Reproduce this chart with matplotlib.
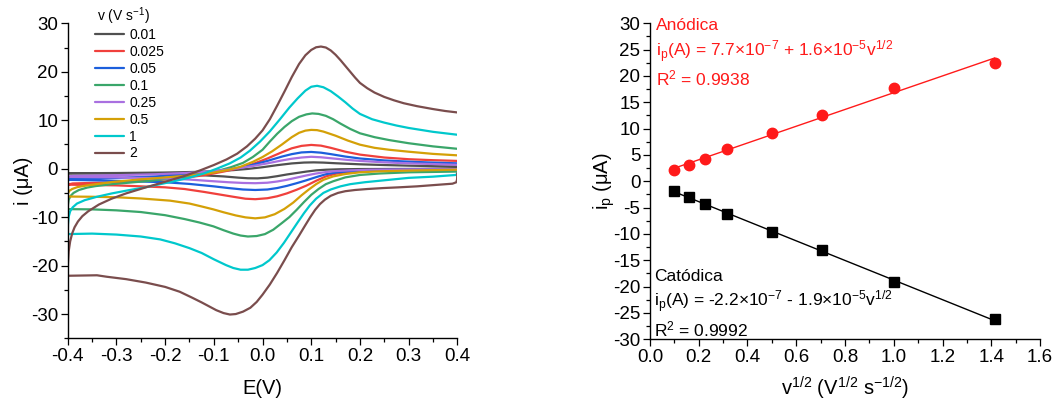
import numpy as np
import matplotlib
matplotlib.use("Agg")
import matplotlib.pyplot as plt
from matplotlib.ticker import MultipleLocator

plt.rcParams['font.family'] = ['Liberation Sans', 'DejaVu Sans']
plt.rcParams['mathtext.default'] = 'regular'
plt.rcParams['axes.unicode_minus'] = False

# ---------------- Left panel: cyclic voltammograms ----------------
scan_rates = ['0.01', '0.025', '0.05', '0.1', '0.25', '0.5', '1', '2']
colors = ['#505050', '#f0403c', '#1c5fdc', '#3aa66a', '#a970e0', '#d4a007', '#00c8cc', '#7a4d4d']

# reverse (cathodic) branch, 0.4 V -> -0.4 V ; forward (anodic) branch, -0.4 V -> 0.4 V
rev_E_001 = [0.4, 0.3, 0.2, 0.16, 0.13, 0.11, 0.09, 0.07, 0.05, 0.03, 0.01, -0.01, -0.03, -0.05, -0.08, -0.12, -0.2, -0.3, -0.4]
rev_i_001 = [0.0, -0.05, -0.08, -0.12, -0.22, -0.35, -0.6, -0.9, -1.2, -1.55, -1.85, -2.0, -1.98, -1.85, -1.6, -1.38, -1.12, -0.98, -0.95]
fwd_E_001 = [-0.4, -0.3, -0.2, -0.14, -0.1, -0.06, -0.03, 0.0, 0.03, 0.06, 0.085, 0.105, 0.125, 0.15, 0.2, 0.25, 0.3, 0.35, 0.4]
fwd_i_001 = [-0.95, -0.9, -0.8, -0.68, -0.52, -0.3, -0.05, 0.3, 0.72, 1.08, 1.26, 1.3, 1.25, 1.12, 0.9, 0.75, 0.62, 0.52, 0.45]

rev_E_0025 = [0.4, 0.3, 0.22, 0.18, 0.15, 0.13, 0.11, 0.09, 0.07, 0.05, 0.03, 0.01, -0.015, -0.035, -0.06, -0.09, -0.12, -0.16, -0.2, -0.3, -0.4]
rev_i_0025 = [-0.2, -0.3, -0.42, -0.65, -1.05, -1.6, -2.5, -3.5, -4.35, -5.1, -5.7, -6.1, -6.3, -6.2, -5.8, -5.3, -4.8, -4.2, -3.85, -3.45, -3.3]
fwd_E_0025 = [-0.4, -0.39, -0.3, -0.22, -0.16, -0.12, -0.08, -0.05, -0.02, 0.01, 0.04, 0.06, 0.08, 0.1, 0.12, 0.14, 0.17, 0.2, 0.25, 0.3, 0.35, 0.4]
fwd_i_0025 = [-3.3, -3.05, -2.8, -2.4, -1.9, -1.35, -0.6, 0.05, 0.95, 2.1, 3.4, 4.2, 4.7, 4.9, 4.75, 4.3, 3.5, 2.9, 2.3, 1.95, 1.75, 1.6]

rev_E_005 = [0.4, 0.3, 0.22, 0.18, 0.15, 0.13, 0.11, 0.09, 0.07, 0.05, 0.03, 0.01, -0.015, -0.04, -0.07, -0.1, -0.15, -0.2, -0.3, -0.4]
rev_i_005 = [-0.1, -0.2, -0.3, -0.5, -0.8, -1.15, -1.75, -2.4, -3.0, -3.55, -4.0, -4.3, -4.4, -4.3, -4.0, -3.65, -3.15, -2.8, -2.5, -2.3]
fwd_E_005 = [-0.4, -0.39, -0.3, -0.22, -0.16, -0.12, -0.08, -0.05, -0.02, 0.01, 0.04, 0.06, 0.08, 0.1, 0.12, 0.14, 0.17, 0.2, 0.25, 0.3, 0.35, 0.4]
fwd_i_005 = [-2.3, -2.1, -1.9, -1.6, -1.2, -0.85, -0.35, 0.15, 0.8, 1.6, 2.5, 3.0, 3.35, 3.45, 3.3, 3.0, 2.5, 2.1, 1.7, 1.45, 1.25, 1.1]

rev_E_01 = [0.4, 0.3, 0.24, 0.2, 0.17, 0.145, 0.13, 0.115, 0.1, 0.085, 0.07, 0.055, 0.04, 0.022, 0.005, -0.012, -0.03, -0.045, -0.06, -0.08, -0.101, -0.13, -0.16, -0.2, -0.25, -0.3, -0.35, -0.4]
rev_i_01 = [-0.6, -0.75, -1.0, -1.3, -1.8, -2.6, -3.2, -4.2, -5.4, -6.9, -8.5, -10.0, -11.2, -12.6, -13.5, -13.9, -14.0, -13.8, -13.4, -12.7, -11.9, -11.1, -10.4, -9.6, -8.95, -8.6, -8.4, -8.35]
fwd_E_01 = [-0.4, -0.3995, -0.398, -0.394, -0.388, -0.377, -0.36, -0.343, -0.31, -0.275, -0.23, -0.186, -0.15, -0.12, -0.09, -0.065, -0.04, -0.02, 0.0, 0.015, 0.03, 0.045, 0.06, 0.075, 0.09, 0.102, 0.115, 0.13, 0.145, 0.16, 0.18, 0.2, 0.23, 0.26, 0.3, 0.35, 0.4]
fwd_i_01 = [-8.35, -7.4, -6.4, -5.6, -5.0, -4.4, -3.9, -3.6, -3.2, -2.9, -2.5, -2.0, -1.5, -0.95, -0.4, 0.3, 1.2, 2.4, 3.9, 5.6, 7.2, 8.6, 9.8, 10.7, 11.2, 11.4, 11.3, 10.9, 10.2, 9.3, 8.2, 7.3, 6.5, 5.9, 5.25, 4.6, 4.1]

rev_E_025 = [0.4, 0.3, 0.22, 0.18, 0.15, 0.13, 0.11, 0.09, 0.07, 0.05, 0.03, 0.01, -0.015, -0.04, -0.07, -0.1, -0.15, -0.2, -0.3, -0.4]
rev_i_025 = [-0.1, -0.15, -0.22, -0.35, -0.5, -0.7, -1.0, -1.4, -1.85, -2.3, -2.65, -2.9, -3.0, -2.95, -2.8, -2.6, -2.25, -2.0, -1.8, -1.7]
fwd_E_025 = [-0.4, -0.39, -0.3, -0.22, -0.16, -0.12, -0.08, -0.05, -0.02, 0.01, 0.04, 0.06, 0.08, 0.1, 0.12, 0.14, 0.17, 0.2, 0.25, 0.3, 0.35, 0.4]
fwd_i_025 = [-1.7, -1.5, -1.35, -1.15, -0.9, -0.65, -0.3, 0.1, 0.55, 1.1, 1.7, 2.05, 2.3, 2.45, 2.35, 2.15, 1.85, 1.6, 1.3, 1.1, 0.95, 0.8]

rev_E_05 = [0.4, 0.3, 0.24, 0.2, 0.17, 0.145, 0.125, 0.11, 0.095, 0.08, 0.063, 0.045, 0.025, 0.005, -0.015, -0.035, -0.055, -0.08, -0.101, -0.125, -0.15, -0.19, -0.25, -0.3, -0.35, -0.4]
rev_i_05 = [-0.2, -0.4, -0.55, -0.75, -1.1, -1.6, -2.3, -3.2, -4.3, -5.5, -7.0, -8.3, -9.4, -10.05, -10.25, -10.05, -9.65, -9.0, -8.4, -7.8, -7.2, -6.6, -6.15, -5.9, -5.8, -5.75]
fwd_E_05 = [-0.4, -0.3995, -0.397, -0.391, -0.38, -0.36, -0.309, -0.25, -0.186, -0.14, -0.1, -0.07, -0.045, -0.02, 0.0, 0.02, 0.04, 0.06, 0.075, 0.088, 0.1, 0.112, 0.125, 0.15, 0.175, 0.2, 0.23, 0.26, 0.3, 0.35, 0.4]
fwd_i_05 = [-5.75, -5.1, -4.6, -4.2, -3.8, -3.45, -2.75, -2.2, -1.7, -1.3, -0.8, -0.25, 0.4, 1.4, 2.4, 3.6, 5.0, 6.5, 7.4, 7.85, 8.0, 7.95, 7.65, 6.8, 5.8, 4.95, 4.3, 3.9, 3.5, 3.05, 2.75]

rev_E_1 = [0.4, 0.397, 0.35, 0.3, 0.25, 0.21, 0.18, 0.16, 0.14, 0.125, 0.11, 0.097, 0.085, 0.072, 0.058, 0.044, 0.029, 0.014, 0.0, -0.015, -0.03, -0.045, -0.06, -0.075, -0.1, -0.125, -0.15, -0.18, -0.21, -0.25, -0.3, -0.35, -0.4]
rev_i_1 = [-1.0, -1.3, -1.65, -1.9, -2.4, -2.8, -3.2, -3.65, -4.3, -5.0, -6.2, -7.6, -9.2, -11.1, -13.2, -15.3, -17.3, -18.9, -19.9, -20.5, -20.85, -20.85, -20.5, -19.9, -18.7, -17.4, -16.4, -15.4, -14.6, -14.0, -13.6, -13.4, -13.5]
fwd_E_1 = [-0.4, -0.3995, -0.398, -0.395, -0.39, -0.381, -0.365, -0.34, -0.309, -0.275, -0.241, -0.21, -0.18, -0.15, -0.121, -0.095, -0.067, -0.045, -0.026, -0.005, 0.015, 0.035, 0.055, 0.072, 0.088, 0.1, 0.112, 0.125, 0.14, 0.155, 0.17, 0.185, 0.2, 0.225, 0.25, 0.275, 0.3, 0.35, 0.4]
fwd_i_1 = [-13.5, -11.5, -9.9, -8.8, -8.0, -7.2, -6.5, -5.8, -5.1, -4.45, -3.85, -3.2, -2.55, -1.85, -1.0, -0.05, 1.1, 2.3, 3.7, 5.6, 7.7, 10.1, 12.6, 14.5, 16.1, 16.9, 17.1, 16.8, 16.0, 14.9, 13.7, 12.4, 11.3, 10.2, 9.5, 8.9, 8.4, 7.6, 7.0]

rev_E_2 = [0.4, 0.3995, 0.398, 0.39, 0.35, 0.317, 0.28, 0.248, 0.215, 0.19, 0.17, 0.155, 0.14, 0.128, 0.118, 0.108, 0.098, 0.087, 0.075, 0.06, 0.045, 0.03, 0.015, 0.0, -0.012, -0.025, -0.04, -0.055, -0.067, -0.08, -0.095, -0.11, -0.125, -0.145, -0.17, -0.2, -0.24, -0.28, -0.32, -0.34, -0.4]
rev_i_2 = [-0.9, -2.2, -2.8, -3.1, -3.4, -3.65, -3.85, -4.0, -4.2, -4.4, -4.65, -5.0, -5.6, -6.4, -7.3, -8.5, -10.0, -11.8, -13.8, -16.2, -18.9, -21.5, -23.9, -26.0, -27.5, -28.7, -29.5, -30.0, -30.1, -29.8, -29.2, -28.4, -27.6, -26.6, -25.4, -24.4, -23.5, -22.8, -22.3, -22.0, -22.1]
fwd_E_2 = [-0.4, -0.3995, -0.398, -0.395, -0.391, -0.386, -0.379, -0.37, -0.358, -0.336, -0.31, -0.28, -0.241, -0.2, -0.16, -0.128, -0.1, -0.074, -0.052, -0.032, -0.015, 0.0, 0.015, 0.03, 0.045, 0.06, 0.075, 0.088, 0.1, 0.11, 0.12, 0.13, 0.14, 0.15, 0.16, 0.17, 0.18, 0.19, 0.2, 0.215, 0.23, 0.25, 0.27, 0.29, 0.317, 0.35, 0.375, 0.4]
fwd_i_2 = [-22.1, -19.5, -17.0, -15.0, -13.4, -12.1, -10.9, -9.8, -8.8, -7.4, -6.2, -5.1, -3.9, -2.7, -1.5, -0.35, 0.75, 1.9, 3.1, 4.6, 6.2, 7.9, 10.2, 13.0, 15.9, 18.9, 21.6, 23.4, 24.5, 25.05, 25.2, 25.0, 24.4, 23.5, 22.4, 21.2, 20.0, 18.8, 17.7, 16.6, 15.7, 14.8, 14.1, 13.5, 12.9, 12.3, 11.9, 11.6]

cv_rev_E = [rev_E_001, rev_E_0025, rev_E_005, rev_E_01, rev_E_025, rev_E_05, rev_E_1, rev_E_2]
cv_rev_i = [rev_i_001, rev_i_0025, rev_i_005, rev_i_01, rev_i_025, rev_i_05, rev_i_1, rev_i_2]
cv_fwd_E = [fwd_E_001, fwd_E_0025, fwd_E_005, fwd_E_01, fwd_E_025, fwd_E_05, fwd_E_1, fwd_E_2]
cv_fwd_i = [fwd_i_001, fwd_i_0025, fwd_i_005, fwd_i_01, fwd_i_025, fwd_i_05, fwd_i_1, fwd_i_2]

# ---------------- Right panel: peak currents ----------------
sqrt_v = [0.1, 0.158, 0.224, 0.316, 0.5, 0.707, 1.0, 1.414]
ip_anodic = [2.15, 3.1, 4.2, 6.2, 9.1, 12.5, 17.8, 22.5]
ip_cathodic = [-1.8, -2.9, -4.4, -6.2, -9.7, -13.0, -19.2, -26.2]

fig = plt.figure(figsize=(10.55, 4.0), dpi=100)
ax1 = fig.add_axes([0.0642, 0.1543, 0.3693, 0.7875])
ax2 = fig.add_axes([0.6161, 0.1518, 0.3697, 0.7900])

TICK = 13.5
LAB = 14.5

def style(ax):
    for s in ['top', 'right']:
        ax.spines[s].set_visible(False)
    for s in ['left', 'bottom']:
        ax.spines[s].set_linewidth(1.0)
    ax.tick_params(which='major', direction='out', length=5, width=0.9, labelsize=TICK, pad=2)
    ax.tick_params(which='minor', direction='out', length=2.8, width=0.9)

for k in range(len(scan_rates)):
    E = list(cv_rev_E[k]) + list(cv_fwd_E[k])
    I = list(cv_rev_i[k]) + list(cv_fwd_i[k])
    ax1.plot(E, I, color=colors[k], lw=1.6, label=scan_rates[k],
             solid_joinstyle='round', solid_capstyle='round')

ax1.set_xlim(-0.4, 0.4)
ax1.set_ylim(-35, 30)
ax1.xaxis.set_major_locator(MultipleLocator(0.1))
ax1.xaxis.set_minor_locator(MultipleLocator(0.05))
ax1.yaxis.set_major_locator(MultipleLocator(10))
ax1.yaxis.set_minor_locator(MultipleLocator(5))
ax1.set_xticks([-0.4, -0.3, -0.2, -0.1, 0.0, 0.1, 0.2, 0.3, 0.4])
ax1.set_xticklabels(['-0.4', '-0.3', '-0.2', '-0.1', '0.0', '0.1', '0.2', '0.3', '0.4'])
ax1.set_yticks([-30, -20, -10, 0, 10, 20, 30])
ax1.set_yticklabels(['-30', '-20', '-10', '0', '10', '20', '30'])
style(ax1)
ax1.set_xlabel('E(V)', fontsize=LAB, labelpad=10)
ax1.set_ylabel('i (μA)', fontsize=LAB, labelpad=-2)

ax1.text(0.074, 1.024, 'v (V s$^{-1}$)', transform=ax1.transAxes, fontsize=10,
         ha='left', va='center')
leg = ax1.legend(loc='upper left', bbox_to_anchor=(0.07, 0.985), frameon=False,
                 fontsize=10, handlelength=2.1, handletextpad=0.35, labelspacing=0.21,
                 borderpad=0, borderaxespad=0)

# right panel
xa = np.array(sqrt_v)
pa = np.polyfit(xa, np.array(ip_anodic), 1)
pc = np.polyfit(xa, np.array(ip_cathodic), 1)
xf = np.array([xa.min(), xa.max()])
red = '#ff1a1a'
ax2.plot(xf, np.polyval(pa, xf), color=red, lw=1.0)
ax2.plot(xf, np.polyval(pc, xf), color='black', lw=1.0)
ax2.plot(sqrt_v, ip_anodic, 'o', color=red, ms=7.5, mec=red)
ax2.plot(sqrt_v, ip_cathodic, 's', color='black', ms=7)

ax2.set_xlim(0, 1.6)
ax2.set_ylim(-30, 30)
ax2.xaxis.set_major_locator(MultipleLocator(0.2))
ax2.xaxis.set_minor_locator(MultipleLocator(0.1))
ax2.yaxis.set_major_locator(MultipleLocator(5))
ax2.yaxis.set_minor_locator(MultipleLocator(2.5))
ax2.set_xticks([0.0, 0.2, 0.4, 0.6, 0.8, 1.0, 1.2, 1.4, 1.6])
ax2.set_xticklabels(['0.0', '0.2', '0.4', '0.6', '0.8', '1.0', '1.2', '1.4', '1.6'])
yt = [-30, -25, -20, -15, -10, -5, 0, 5, 10, 15, 20, 25, 30]
ax2.set_yticks(yt)
ax2.set_yticklabels([str(v) for v in yt])
style(ax2)
ax2.set_xlabel('v$^{1/2}$ (V$^{1/2}$ s$^{-1/2}$)', fontsize=LAB, labelpad=6)
ax2.set_ylabel('i$_p$ (μA)', fontsize=LAB, labelpad=-3)

TXT = 12.5
ax2.text(0.025, 29.5, 'Anódica', color=red, fontsize=TXT, va='center', ha='left')
ax2.text(0.025, 24.5, 'i$_p$(A) = 7.7×10$^{-7}$ + 1.6×10$^{-5}$v$^{1/2}$', color=red, fontsize=TXT, va='center', ha='left')
ax2.text(0.025, 19.5, 'R$^2$ = 0.9938', color=red, fontsize=TXT, va='center', ha='left')
ax2.text(0.015, -18.0, 'Catódica', color='black', fontsize=TXT, va='center', ha='left')
ax2.text(0.015, -22.8, 'i$_p$(A) = -2.2×10$^{-7}$ - 1.9×10$^{-5}$v$^{1/2}$', color='black', fontsize=TXT, va='center', ha='left')
ax2.text(0.015, -28.2, 'R$^2$ = 0.9992', color='black', fontsize=TXT, va='center', ha='left')

fig.savefig('out.png', dpi=100)
